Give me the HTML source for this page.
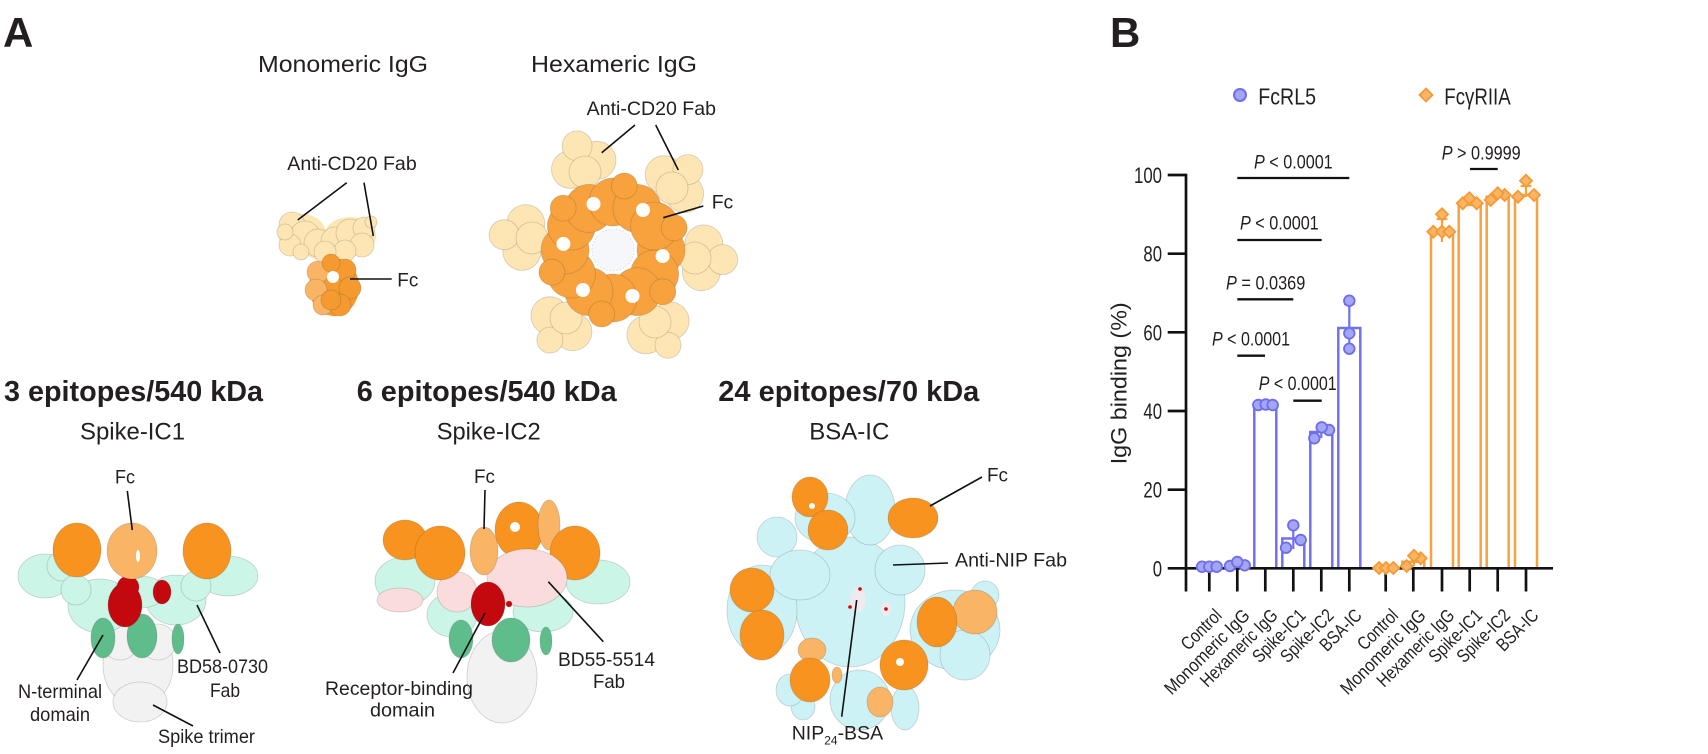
<!DOCTYPE html>
<html>
<head>
<meta charset="utf-8">
<style>
html,body{margin:0;padding:0;background:#fff;}
svg{display:block;}
text{font-family:"Liberation Sans",Arial,sans-serif;fill:#231f20;}
.b{font-weight:bold;}
.lbl{font-size:19.5px;}
.blob circle,.blob ellipse{stroke:#3a3a3a;stroke-opacity:0.22;stroke-width:0.8;}
</style>
</head>
<body>
<svg width="1708" height="754" viewBox="0 0 1708 754" xmlns="http://www.w3.org/2000/svg">
<rect width="1708" height="754" fill="#fff"/>

<!-- Panel letters -->
<text x="3" y="47" class="b" font-size="42">A</text>
<text x="1110" y="47" class="b" font-size="42">B</text>

<!-- ===== Monomeric IgG ===== -->
<text x="258" y="72" font-size="23.5" textLength="170" lengthAdjust="spacingAndGlyphs">Monomeric IgG</text>
<g fill="#fde6b3">
  <ellipse cx="302" cy="234" rx="24" ry="20"/><ellipse cx="350" cy="236" rx="26" ry="19"/><ellipse cx="326" cy="248" rx="22" ry="13"/>
</g>
<g class="blob" fill="#fde6b3">
  <circle cx="292" cy="225" r="13"/><circle cx="305" cy="236" r="15"/><circle cx="290" cy="245" r="11"/>
  <circle cx="318" cy="243" r="14"/><circle cx="335" cy="241" r="14"/><circle cx="350" cy="233" r="14"/>
  <circle cx="364" cy="228" r="11"/><circle cx="362" cy="245" r="12"/><circle cx="345" cy="251" r="11"/>
  <circle cx="325" cy="252" r="11"/><circle cx="301" cy="252" r="8"/><circle cx="371" cy="222" r="6"/><circle cx="285" cy="232" r="8"/>
</g>
<ellipse cx="334" cy="287" rx="25" ry="29" fill="#f59a2e"/>
<g class="blob">
  <circle cx="318" cy="272" r="11" fill="#f9b466"/><circle cx="316" cy="290" r="11" fill="#f9b466"/><circle cx="323" cy="305" r="10" fill="#f9b466"/>
  <circle cx="345" cy="270" r="11" fill="#f59a2e"/><circle cx="350" cy="288" r="11" fill="#f59a2e"/><circle cx="340" cy="305" r="11" fill="#f59a2e"/>
  <circle cx="331" cy="300" r="10" fill="#f59a2e"/><circle cx="331" cy="263" r="9" fill="#f59a2e"/>
</g>
<circle cx="333" cy="277" r="6" fill="#fff"/>
<text x="287.3" y="170" class="lbl" textLength="129.4" lengthAdjust="spacingAndGlyphs">Anti-CD20 Fab</text>
<line x1="346.7" y1="182.7" x2="297.7" y2="220" stroke="#111" stroke-width="1.6"/>
<line x1="364" y1="182.7" x2="373.3" y2="236" stroke="#111" stroke-width="1.6"/>
<text x="397.3" y="286.7" class="lbl" textLength="21" lengthAdjust="spacingAndGlyphs">Fc</text>
<line x1="350" y1="279" x2="391.7" y2="279" stroke="#111" stroke-width="1.6"/>

<!-- ===== Hexameric IgG ===== -->
<text x="531" y="72" font-size="23.5" textLength="166" lengthAdjust="spacingAndGlyphs">Hexameric IgG</text>
<g class="blob" fill="#fde6b3">
  <circle cx="597" cy="160.3" r="19"/><circle cx="570.5" cy="169.5" r="19"/><circle cx="577.1" cy="145.9" r="15"/><circle cx="585" cy="172" r="16"/>
  <circle cx="684.6" cy="193.7" r="19"/><circle cx="664.2" cy="174.7" r="19"/><circle cx="688" cy="169.6" r="15"/><circle cx="672" cy="188" r="16"/>
  <circle cx="701.4" cy="271.7" r="19"/><circle cx="703.8" cy="243.9" r="19"/><circle cx="722.6" cy="259.6" r="15"/><circle cx="695" cy="258" r="16"/>
  <circle cx="645.9" cy="334.9" r="19"/><circle cx="670.1" cy="320.9" r="19"/><circle cx="668" cy="345.3" r="13"/><circle cx="655" cy="322" r="16"/>
  <circle cx="549.9" cy="315.7" r="19"/><circle cx="572.9" cy="331.7" r="19"/><circle cx="549.9" cy="340.1" r="13"/><circle cx="566" cy="318" r="16"/>
  <circle cx="525.8" cy="223.6" r="19"/><circle cx="521.9" cy="251.4" r="19"/><circle cx="504.1" cy="234.7" r="15"/><circle cx="532" cy="238" r="16"/>
</g>
<g class="blob" fill="#f7a23c">
  <circle cx="661" cy="250" r="24"/><circle cx="654.6" cy="274" r="24"/><circle cx="637" cy="291.6" r="24"/>
  <circle cx="613" cy="298" r="24"/><circle cx="589" cy="291.6" r="24"/><circle cx="571.4" cy="274" r="24"/>
  <circle cx="565" cy="250" r="24"/><circle cx="571.4" cy="226" r="24"/><circle cx="589" cy="208.4" r="24"/>
  <circle cx="613" cy="202" r="24"/><circle cx="637" cy="208.4" r="24"/><circle cx="654.6" cy="226" r="24"/>
  <circle cx="624.3" cy="186" r="13"/><circle cx="674.1" cy="227.8" r="13"/><circle cx="662.8" cy="291.8" r="13"/>
  <circle cx="601.7" cy="314" r="13"/><circle cx="551.9" cy="272.2" r="13"/><circle cx="563.2" cy="208.2" r="13"/>
</g>
<g fill="#fff">
  <circle cx="593.5" cy="204" r="7"/><circle cx="643" cy="210" r="7"/><circle cx="662.6" cy="256.1" r="7"/>
  <circle cx="632.5" cy="296" r="7"/><circle cx="582.9" cy="290" r="7"/><circle cx="563.4" cy="243.9" r="7"/>
</g>
<circle cx="613" cy="250" r="21" fill="#f6f7fb" stroke="#c9cde0" stroke-width="0.6" stroke-dasharray="1.5 2"/>
<text x="586.7" y="115" class="lbl" textLength="129.3" lengthAdjust="spacingAndGlyphs">Anti-CD20 Fab</text>
<line x1="635" y1="125" x2="601.7" y2="152.7" stroke="#111" stroke-width="1.6"/>
<line x1="655.7" y1="125" x2="678.3" y2="170" stroke="#111" stroke-width="1.6"/>
<text x="711.7" y="208.3" class="lbl" textLength="21.6" lengthAdjust="spacingAndGlyphs">Fc</text>
<line x1="703.3" y1="206" x2="663.3" y2="217.7" stroke="#111" stroke-width="1.6"/>

<!-- ===== Headings row ===== -->
<text x="4" y="401" class="b" font-size="29" textLength="259" lengthAdjust="spacingAndGlyphs">3 epitopes/540 kDa</text>
<text x="356.7" y="401" class="b" font-size="29" textLength="260" lengthAdjust="spacingAndGlyphs">6 epitopes/540 kDa</text>
<text x="718.3" y="401" class="b" font-size="29" textLength="261" lengthAdjust="spacingAndGlyphs">24 epitopes/70 kDa</text>
<text x="80" y="439.3" font-size="24" textLength="105" lengthAdjust="spacingAndGlyphs">Spike-IC1</text>
<text x="436.7" y="439.3" font-size="24" textLength="104" lengthAdjust="spacingAndGlyphs">Spike-IC2</text>
<text x="809.3" y="439.3" font-size="24" textLength="80" lengthAdjust="spacingAndGlyphs">BSA-IC</text>

<!-- ===== Spike-IC1 ===== -->
<g class="blob">
  <ellipse cx="138" cy="665" rx="35" ry="42" fill="#f2f2f2"/>
  <ellipse cx="140" cy="702" rx="27" ry="20" fill="#f2f2f2"/>
  <circle cx="120" cy="642" r="18" fill="#f2f2f2"/><circle cx="158" cy="642" r="18" fill="#f2f2f2"/>
  <ellipse cx="45" cy="576" rx="27" ry="22" fill="#cbf5e6"/><circle cx="62" cy="566" r="15" fill="#cbf5e6"/>
  <ellipse cx="228" cy="576" rx="30" ry="20" fill="#cbf5e6"/>
  <ellipse cx="100" cy="606" rx="32" ry="27" fill="#cbf5e6"/><ellipse cx="176" cy="600" rx="30" ry="25" fill="#cbf5e6"/>
  <ellipse cx="140" cy="592" rx="26" ry="16" fill="#cbf5e6"/>
  <circle cx="76" cy="590" r="15" fill="#cbf5e6"/><circle cx="196" cy="586" r="15" fill="#cbf5e6"/>
  <ellipse cx="103" cy="638" rx="12" ry="20" fill="#5fbd8c"/><ellipse cx="142" cy="636" rx="15" ry="22" fill="#5fbd8c"/>
  <ellipse cx="178" cy="639" rx="6" ry="15" fill="#5fbd8c"/>
  <ellipse cx="125" cy="605" rx="17" ry="22" fill="#c3080e"/><circle cx="128" cy="587" r="11" fill="#c3080e"/>
  <ellipse cx="162" cy="592" rx="9" ry="12" fill="#c3080e"/>
  <ellipse cx="77" cy="550" rx="24" ry="27" fill="#f7931e"/>
  <ellipse cx="207" cy="551" rx="24" ry="28" fill="#f7931e"/>
  <ellipse cx="132" cy="551" rx="25" ry="28" fill="#f9b466"/>
</g>
<ellipse cx="138" cy="556" rx="2" ry="6" fill="#fff"/>
<text x="115" y="483.3" class="lbl" textLength="20" lengthAdjust="spacingAndGlyphs">Fc</text>
<line x1="127.3" y1="491" x2="132.3" y2="530" stroke="#111" stroke-width="1.6"/>
<text x="18" y="698" class="lbl" textLength="84" lengthAdjust="spacingAndGlyphs">N-terminal</text>
<text x="30" y="721" class="lbl" textLength="60" lengthAdjust="spacingAndGlyphs">domain</text>
<line x1="103" y1="635" x2="77" y2="680" stroke="#111" stroke-width="1.6"/>
<text x="177" y="673" class="lbl" textLength="91" lengthAdjust="spacingAndGlyphs">BD58-0730</text>
<text x="210" y="697" class="lbl" textLength="30" lengthAdjust="spacingAndGlyphs">Fab</text>
<line x1="197" y1="605" x2="220" y2="653" stroke="#111" stroke-width="1.6"/>
<text x="158" y="743" class="lbl" textLength="97" lengthAdjust="spacingAndGlyphs">Spike trimer</text>
<line x1="153" y1="705" x2="193" y2="726" stroke="#111" stroke-width="1.6"/>

<!-- ===== Spike-IC2 ===== -->
<g class="blob">
  <ellipse cx="502" cy="677" rx="35" ry="46" fill="#f2f2f2"/>
  <ellipse cx="405" cy="581" rx="30" ry="24" fill="#cbf5e6"/>
  <ellipse cx="598" cy="582" rx="32" ry="22" fill="#cbf5e6"/>
  <ellipse cx="452" cy="615" rx="25" ry="22" fill="#cbf5e6"/>
  <ellipse cx="543" cy="612" rx="30" ry="20" fill="#cbf5e6"/>
  <ellipse cx="400" cy="600" rx="23" ry="12" fill="#fbdcdc"/>
  <ellipse cx="457" cy="592" rx="20" ry="20" fill="#fbdcdc"/>
  <ellipse cx="461" cy="639" rx="12" ry="19" fill="#5fbd8c"/>
  <ellipse cx="511" cy="640" rx="19" ry="22" fill="#5fbd8c"/>
  <ellipse cx="546" cy="641" rx="6" ry="14" fill="#5fbd8c"/>
  <ellipse cx="405" cy="540" rx="22" ry="20" fill="#f7931e"/>
  <ellipse cx="440" cy="553" rx="25" ry="27" fill="#f7931e"/>
  <ellipse cx="519" cy="530" rx="24" ry="28" fill="#f7931e"/>
  <ellipse cx="549" cy="525" rx="11" ry="25" fill="#f9b466"/>
  <ellipse cx="575" cy="553" rx="25" ry="27" fill="#f7931e"/>
  <ellipse cx="527" cy="578" rx="40" ry="29" fill="#fbdcdc"/>
  <ellipse cx="484" cy="551" rx="14" ry="24" fill="#f9b466"/>
  <ellipse cx="488" cy="604" rx="17" ry="22" fill="#c3080e"/>
  <circle cx="509" cy="604" r="3" fill="#c3080e"/>
</g>
<circle cx="515" cy="527" r="5" fill="#fff"/>
<text x="474" y="483" class="lbl" textLength="21" lengthAdjust="spacingAndGlyphs">Fc</text>
<line x1="485" y1="490" x2="484" y2="529" stroke="#111" stroke-width="1.6"/>
<text x="325" y="695" class="lbl" textLength="148" lengthAdjust="spacingAndGlyphs">Receptor-binding</text>
<text x="370" y="716.7" class="lbl" textLength="65" lengthAdjust="spacingAndGlyphs">domain</text>
<line x1="453" y1="673" x2="485" y2="613" stroke="#111" stroke-width="1.6"/>
<text x="558" y="666" class="lbl" textLength="97" lengthAdjust="spacingAndGlyphs">BD55-5514</text>
<text x="593" y="688" class="lbl" textLength="32" lengthAdjust="spacingAndGlyphs">Fab</text>
<line x1="548.3" y1="581.7" x2="603.3" y2="641.7" stroke="#111" stroke-width="1.6"/>

<!-- ===== BSA-IC ===== -->
<g class="blob" fill="#ccf2f6">
  <ellipse cx="850" cy="602" rx="55" ry="65"/>
  <ellipse cx="870" cy="510" rx="25" ry="35"/>
  <ellipse cx="825" cy="518" rx="30" ry="25"/>
  <ellipse cx="777" cy="537" rx="20" ry="20"/>
  <ellipse cx="762" cy="610" rx="35" ry="45"/>
  <ellipse cx="955" cy="630" rx="45" ry="40"/>
  <ellipse cx="965" cy="655" rx="25" ry="25"/>
  <ellipse cx="860" cy="700" rx="30" ry="30"/>
  <ellipse cx="905" cy="708" rx="14" ry="22"/>
  <ellipse cx="803" cy="706" rx="12" ry="14"/>
  <ellipse cx="900" cy="570" rx="25" ry="25"/>
  <ellipse cx="800" cy="575" rx="30" ry="25"/>
  <ellipse cx="790" cy="690" rx="14" ry="16"/>
  <ellipse cx="985" cy="595" rx="14" ry="14"/>
</g>
<g class="blob">
  <ellipse cx="810" cy="497" rx="18" ry="20" fill="#f7931e"/>
  <ellipse cx="828" cy="530" rx="20" ry="20" fill="#f7931e"/>
  <ellipse cx="913" cy="518" rx="25" ry="20" fill="#f7931e"/>
  <ellipse cx="752" cy="590" rx="22" ry="22" fill="#f7931e"/>
  <ellipse cx="762" cy="635" rx="22" ry="25" fill="#f7931e"/>
  <ellipse cx="975" cy="612" rx="22" ry="22" fill="#f9b466"/>
  <ellipse cx="937" cy="622" rx="20" ry="25" fill="#f7931e"/>
  <ellipse cx="904" cy="665" rx="24" ry="25" fill="#f7931e"/>
  <ellipse cx="812" cy="650" rx="14" ry="12" fill="#f9b466"/>
  <ellipse cx="810" cy="680" rx="20" ry="22" fill="#f7931e"/>
  <ellipse cx="880" cy="702" rx="13" ry="15" fill="#f9b466"/>
  <ellipse cx="837" cy="675" rx="5" ry="8" fill="#f9b466"/>
</g>
<circle cx="812" cy="506" r="3" fill="#fff"/>
<circle cx="900" cy="662" r="4" fill="#fff"/>
<ellipse cx="858" cy="600" rx="8" ry="12" fill="#eeeaee"/>
<ellipse cx="886" cy="609" rx="5" ry="7" fill="#eeeaee"/>
<circle cx="860" cy="589" r="1.8" fill="#d00"/><circle cx="850" cy="607" r="1.8" fill="#d00"/><circle cx="886" cy="609" r="1.8" fill="#d00"/>
<text x="987" y="481.7" class="lbl" textLength="21" lengthAdjust="spacingAndGlyphs">Fc</text>
<line x1="930" y1="506" x2="982" y2="477" stroke="#111" stroke-width="1.6"/>
<text x="955" y="566.7" class="lbl" textLength="112" lengthAdjust="spacingAndGlyphs">Anti-NIP Fab</text>
<line x1="893" y1="565" x2="948" y2="563" stroke="#111" stroke-width="1.6"/>
<text x="791.7" y="739.3" class="lbl">NIP<tspan font-size="12" dy="5">24</tspan><tspan dy="-5">-BSA</tspan></text>
<line x1="841.7" y1="716.7" x2="856.7" y2="600" stroke="#111" stroke-width="1.6"/>

<!-- ===== Panel B chart ===== -->
<!-- legend -->
<circle cx="1240" cy="95" r="6" fill="#a5a5f5" stroke="#6e6eea" stroke-width="2"/>
<text x="1258.3" y="104.3" font-size="23.5" textLength="57.7" lengthAdjust="spacingAndGlyphs">FcRL5</text>
<path d="M1426,88.5 L1432.5,95 L1426,101.5 L1419.5,95 Z" fill="#f9b466" stroke="#f59a35" stroke-width="1.8"/>
<text x="1444.3" y="104.3" font-size="23.5" textLength="66.4" lengthAdjust="spacingAndGlyphs">FcγRIIA</text>

<!-- bars FcRL5 -->
<g fill="#fff" stroke="#7171ee" stroke-width="2.5">
  <rect x="1226.3" y="564.4" width="22" height="3.9"/>
  <path d="M1254.3,568.3 V405 H1276.3 V568.3"/>
  <path d="M1282.3,568.3 V538.5 H1304.3 V568.3"/>
  <path d="M1310.3,568.3 V432 H1332.3 V568.3"/>
  <path d="M1338.3,568.3 V328 H1360.3 V568.3"/>
</g>
<!-- bars FcgRIIA -->
<g fill="#fff" stroke="#f7a13f" stroke-width="2.5">
  <path d="M1402.3,568.3 V561.7 H1424.3 V568.3"/>
  <path d="M1431,568.3 V232 H1453 V568.3"/>
  <path d="M1458.7,568.3 V205 H1480.7 V568.3"/>
  <path d="M1486.7,568.3 V196.7 H1508.7 V568.3"/>
  <path d="M1515,568.3 V195 H1537 V568.3"/>
</g>
<!-- error bars -->
<g stroke="#7171ee" stroke-width="2.2" fill="none">
  <path d="M1293.3,526 V549 M1288,526 H1298.6"/>
  <path d="M1321.3,428 V438"/>
  <path d="M1349.3,304 V352 M1344,304 H1354.6"/>
</g>
<g stroke="#f7a13f" stroke-width="2.2" fill="none">
  <path d="M1442,219 V242 M1436.7,219 H1447.3"/>
  <path d="M1526,186 V197 M1520.7,186 H1531.3"/>
  <path d="M1414,556 V566"/>
</g>

<!-- axes -->
<g stroke="#111" stroke-width="2.7" fill="none">
  <line x1="1186" y1="173.8" x2="1186" y2="591.5"/>
  <line x1="1184.7" y1="568.3" x2="1553" y2="568.3"/>
  <line x1="1167.7" y1="175" x2="1186" y2="175"/>
  <line x1="1167.7" y1="253.7" x2="1186" y2="253.7"/>
  <line x1="1167.7" y1="332.3" x2="1186" y2="332.3"/>
  <line x1="1167.7" y1="411" x2="1186" y2="411"/>
  <line x1="1167.7" y1="489.7" x2="1186" y2="489.7"/>
  <line x1="1167.7" y1="568.3" x2="1186" y2="568.3"/>
  <line x1="1209.3" y1="568.3" x2="1209.3" y2="591.5"/>
  <line x1="1237.3" y1="568.3" x2="1237.3" y2="591.5"/>
  <line x1="1265.3" y1="568.3" x2="1265.3" y2="591.5"/>
  <line x1="1293.3" y1="568.3" x2="1293.3" y2="591.5"/>
  <line x1="1321.3" y1="568.3" x2="1321.3" y2="591.5"/>
  <line x1="1349.3" y1="568.3" x2="1349.3" y2="591.5"/>
  <line x1="1385.7" y1="568.3" x2="1385.7" y2="591.5"/>
  <line x1="1413.3" y1="568.3" x2="1413.3" y2="591.5"/>
  <line x1="1442" y1="568.3" x2="1442" y2="591.5"/>
  <line x1="1469.7" y1="568.3" x2="1469.7" y2="591.5"/>
  <line x1="1497.7" y1="568.3" x2="1497.7" y2="591.5"/>
  <line x1="1526" y1="568.3" x2="1526" y2="591.5"/>
</g>

<!-- points FcRL5 -->
<g fill="#a5a5f5" stroke="#6e6eea" stroke-width="1.8">
  <circle cx="1202" cy="566.7" r="5.3"/><circle cx="1209.3" cy="566.7" r="5.3"/><circle cx="1216.7" cy="566.7" r="5.3"/>
  <circle cx="1230" cy="566" r="5.3"/><circle cx="1244.7" cy="565.3" r="5.3"/><circle cx="1237.3" cy="562" r="5.3"/>
  <circle cx="1258.3" cy="405" r="5.3"/><circle cx="1265.7" cy="404.5" r="5.3"/><circle cx="1272.7" cy="405" r="5.3"/>
  <circle cx="1286" cy="547.7" r="5.3"/><circle cx="1300.7" cy="540" r="5.3"/><circle cx="1293.3" cy="525.3" r="5.3"/>
  <circle cx="1314.3" cy="438.3" r="5.3"/><circle cx="1329" cy="430" r="5.3"/><circle cx="1321.7" cy="427.3" r="5.3"/>
  <circle cx="1349.3" cy="300.7" r="5.3"/><circle cx="1349.3" cy="333.3" r="5.3"/><circle cx="1349.3" cy="348.7" r="5.3"/>
</g>
<!-- points FcgRIIA -->
<g fill="#f9b466" stroke="#f59a35" stroke-width="1.8">
  <path d="M1379,562 l6,6 l-6,6 l-6,-6 z"/><path d="M1386,562 l6,6 l-6,6 l-6,-6 z"/><path d="M1393.3,562 l6,6 l-6,6 l-6,-6 z"/>
  <path d="M1406.7,560 l6,6 l-6,6 l-6,-6 z"/><path d="M1420.7,552.3 l6,6 l-6,6 l-6,-6 z"/><path d="M1414,549.7 l6,6 l-6,6 l-6,-6 z"/>
  <path d="M1433.3,225.7 l6,6 l-6,6 l-6,-6 z"/><path d="M1442,225.7 l6,6 l-6,6 l-6,-6 z"/><path d="M1449.3,225.7 l6,6 l-6,6 l-6,-6 z"/><path d="M1442,208.3 l6,6 l-6,6 l-6,-6 z"/>
  <path d="M1462.7,197.3 l6,6 l-6,6 l-6,-6 z"/><path d="M1476.7,197.3 l6,6 l-6,6 l-6,-6 z"/><path d="M1469.3,192.3 l6,6 l-6,6 l-6,-6 z"/>
  <path d="M1490.7,194 l6,6 l-6,6 l-6,-6 z"/><path d="M1504.7,189 l6,6 l-6,6 l-6,-6 z"/><path d="M1497.7,187.3 l6,6 l-6,6 l-6,-6 z"/>
  <path d="M1518,190.7 l6,6 l-6,6 l-6,-6 z"/><path d="M1534,189 l6,6 l-6,6 l-6,-6 z"/><path d="M1526,174.7 l6,6 l-6,6 l-6,-6 z"/>
</g>

<!-- y tick labels -->
<g font-size="22" text-anchor="end">
  <text x="1162" y="183" textLength="28" lengthAdjust="spacingAndGlyphs">100</text>
  <text x="1162" y="261.7" textLength="18.6" lengthAdjust="spacingAndGlyphs">80</text>
  <text x="1162" y="340.3" textLength="18.6" lengthAdjust="spacingAndGlyphs">60</text>
  <text x="1162" y="419" textLength="18.6" lengthAdjust="spacingAndGlyphs">40</text>
  <text x="1162" y="497.7" textLength="18.6" lengthAdjust="spacingAndGlyphs">20</text>
  <text x="1162" y="576.3" textLength="9.3" lengthAdjust="spacingAndGlyphs">0</text>
</g>
<!-- y axis label -->
<text transform="translate(1126.7,383.3) rotate(-90)" text-anchor="middle" font-size="22" textLength="162" lengthAdjust="spacingAndGlyphs">IgG binding (%)</text>

<!-- x labels -->
<g font-size="18.5" text-anchor="end">
  <text transform="translate(1218.3,612) rotate(-45)" dy="0.35em" textLength="49" lengthAdjust="spacingAndGlyphs">Control</text>
  <text transform="translate(1246.3,612) rotate(-45)" dy="0.35em" textLength="112" lengthAdjust="spacingAndGlyphs">Monomeric IgG</text>
  <text transform="translate(1274.3,612) rotate(-45)" dy="0.35em" textLength="101" lengthAdjust="spacingAndGlyphs">Hexameric IgG</text>
  <text transform="translate(1302.3,612) rotate(-45)" dy="0.35em" textLength="66.7" lengthAdjust="spacingAndGlyphs">Spike-IC1</text>
  <text transform="translate(1330.3,612) rotate(-45)" dy="0.35em" textLength="66.7" lengthAdjust="spacingAndGlyphs">Spike-IC2</text>
  <text transform="translate(1358.3,612) rotate(-45)" dy="0.35em" textLength="50.7" lengthAdjust="spacingAndGlyphs">BSA-IC</text>
  <text transform="translate(1394.7,612) rotate(-45)" dy="0.35em" textLength="49" lengthAdjust="spacingAndGlyphs">Control</text>
  <text transform="translate(1422.3,612) rotate(-45)" dy="0.35em" textLength="112" lengthAdjust="spacingAndGlyphs">Monomeric IgG</text>
  <text transform="translate(1451,612) rotate(-45)" dy="0.35em" textLength="101" lengthAdjust="spacingAndGlyphs">Hexameric IgG</text>
  <text transform="translate(1478.7,612) rotate(-45)" dy="0.35em" textLength="66.7" lengthAdjust="spacingAndGlyphs">Spike-IC1</text>
  <text transform="translate(1506.7,612) rotate(-45)" dy="0.35em" textLength="66.7" lengthAdjust="spacingAndGlyphs">Spike-IC2</text>
  <text transform="translate(1535,612) rotate(-45)" dy="0.35em" textLength="50.7" lengthAdjust="spacingAndGlyphs">BSA-IC</text>
</g>

<!-- significance -->
<g font-size="19.5">
  <text x="1254" y="168.3" textLength="78.7" lengthAdjust="spacingAndGlyphs"><tspan font-style="italic">P</tspan> &lt; 0.0001</text>
  <text x="1240" y="229.3" textLength="78.7" lengthAdjust="spacingAndGlyphs"><tspan font-style="italic">P</tspan> &lt; 0.0001</text>
  <text x="1226" y="289.3" textLength="79.3" lengthAdjust="spacingAndGlyphs"><tspan font-style="italic">P</tspan> = 0.0369</text>
  <text x="1212" y="345.7" textLength="78" lengthAdjust="spacingAndGlyphs"><tspan font-style="italic">P</tspan> &lt; 0.0001</text>
  <text x="1258.7" y="390" textLength="78" lengthAdjust="spacingAndGlyphs"><tspan font-style="italic">P</tspan> &lt; 0.0001</text>
  <text x="1441.7" y="159.3" textLength="79" lengthAdjust="spacingAndGlyphs"><tspan font-style="italic">P</tspan> &gt; 0.9999</text>
</g>
<g stroke="#111" stroke-width="2.3">
  <line x1="1237.3" y1="178" x2="1349.3" y2="178"/>
  <line x1="1237.3" y1="240" x2="1321.7" y2="240"/>
  <line x1="1237.3" y1="299.3" x2="1293.3" y2="299.3"/>
  <line x1="1237.3" y1="355.7" x2="1265" y2="355.7"/>
  <line x1="1293.3" y1="400.7" x2="1321.7" y2="400.7"/>
  <line x1="1470" y1="169" x2="1497.7" y2="169"/>
</g>
</svg>
</body>
</html>
